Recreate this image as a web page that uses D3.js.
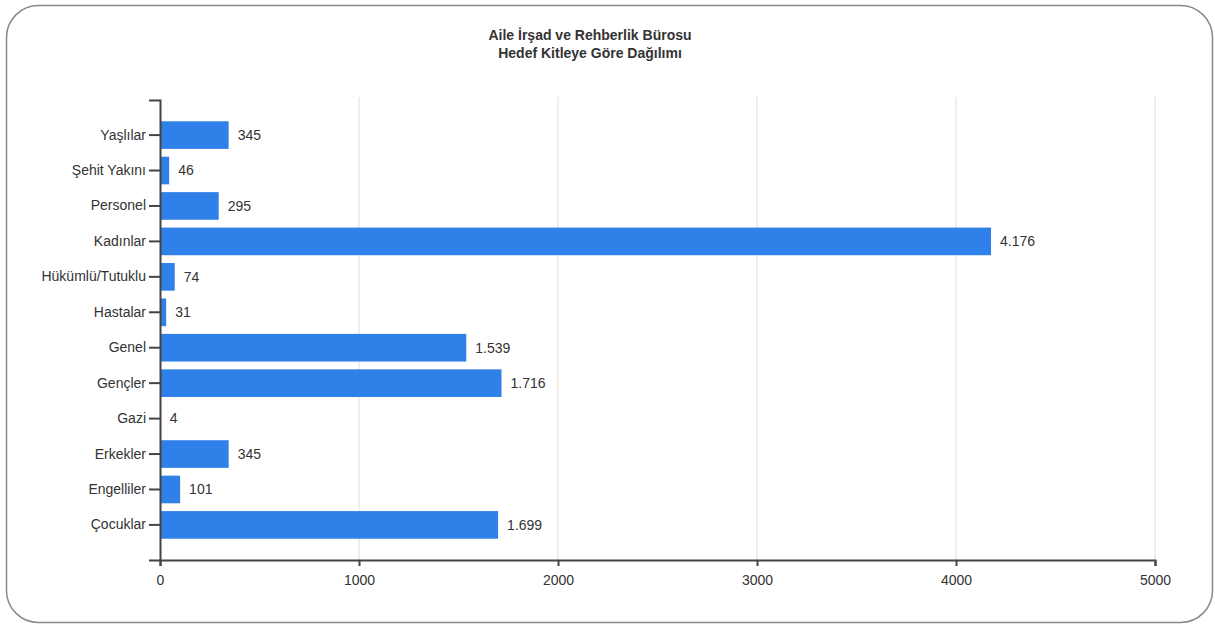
<!DOCTYPE html>
<html>
<head>
<meta charset="utf-8">
<script src="https://cdn.jsdelivr.net/npm/d3@7/dist/d3.min.js"></script>
<style>
  html, body { margin: 0; padding: 0; background: #fff; }
  svg { display: block; font-family: "Liberation Sans", Arial, sans-serif; }
</style>
</head>
<body>
<svg id="chart" width="1215" height="626"></svg>
<script>
const titleLines = ["Aile İrşad ve Rehberlik Bürosu", "Hedef Kitleye Göre Dağılımı"];
const categories = ["Yaşlılar", "Şehit Yakını", "Personel", "Kadınlar", "Hükümlü/Tutuklu", "Hastalar", "Genel", "Gençler", "Gazi", "Erkekler", "Engelliler", "Çocuklar"];
const values = [345, 46, 295, 4176, 74, 31, 1539, 1716, 4, 345, 101, 1699];
const xTicks = [0, 1000, 2000, 3000, 4000, 5000];

const svg = d3.select("#chart");
const W = 1215, H = 626;

// outer rounded frame
svg.append("rect")
  .attr("x", 6.5).attr("y", 5.5)
  .attr("width", 1206).attr("height", 617)
  .attr("rx", 32).attr("ry", 32)
  .attr("fill", "#fff")
  .attr("stroke", "#8a8a8a")
  .attr("stroke-width", 1.5);

const margin = { left: 160, right: 1155, top: 100, bottom: 560 };

const x = d3.scaleLinear().domain([0, 5000]).range([margin.left, margin.right]);
const y = d3.scaleBand().domain(categories).range([margin.top, margin.bottom])
  .paddingInner(0.22).paddingOuter(0.6);

// title
svg.append("g").selectAll("text").data(titleLines).join("text")
  .attr("x", 590).attr("y", (d, i) => 40 + i * 18)
  .attr("text-anchor", "middle")
  .attr("font-size", "14px").attr("font-weight", "bold")
  .attr("fill", "#333")
  .text(d => d);

// gridlines
svg.append("g").selectAll("line").data(xTicks.filter(t => t > 0)).join("line")
  .attr("x1", d => x(d)).attr("x2", d => x(d))
  .attr("y1", 97).attr("y2", margin.bottom)
  .attr("stroke", "#e3e3e3").attr("stroke-width", 1.2);

// bars
svg.append("g").selectAll("rect").data(values).join("rect")
  .attr("x", x(0))
  .attr("y", (d, i) => y(categories[i]))
  .attr("width", d => x(d) - x(0))
  .attr("height", y.bandwidth())
  .attr("fill", "#2f80e8");

// value labels
const fmt = d3.formatLocale({ decimal: ",", thousands: ".", grouping: [3], currency: ["", ""] }).format(",d");
svg.append("g").selectAll("text").data(values).join("text")
  .attr("x", d => x(d) + 9)
  .attr("y", (d, i) => y(categories[i]) + y.bandwidth() / 2)
  .attr("dy", "0.35em")
  .attr("font-size", "14px")
  .attr("fill", "#333")
  .text(d => fmt(d));

// axes
const yAxis = svg.append("g")
  .attr("transform", `translate(${x(0)},0)`)
  .call(d3.axisLeft(y).tickSize(11).tickSizeOuter(11).tickPadding(3));
yAxis.selectAll("text").attr("font-size", "14px").attr("fill", "#333").attr("font-family", "Liberation Sans, Arial, sans-serif");

const xAxis = svg.append("g")
  .attr("transform", `translate(0,${margin.bottom})`)
  .call(d3.axisBottom(x).tickValues(xTicks).tickFormat(d3.format("d")).tickSize(6).tickSizeOuter(6).tickPadding(9));
xAxis.selectAll("text").attr("font-size", "14px").attr("fill", "#333").attr("font-family", "Liberation Sans, Arial, sans-serif");

svg.selectAll(".domain").attr("stroke", "#444").attr("stroke-width", 2);
svg.selectAll(".tick line").attr("stroke", "#444").attr("stroke-width", 2);
</script>
</body>
</html>
